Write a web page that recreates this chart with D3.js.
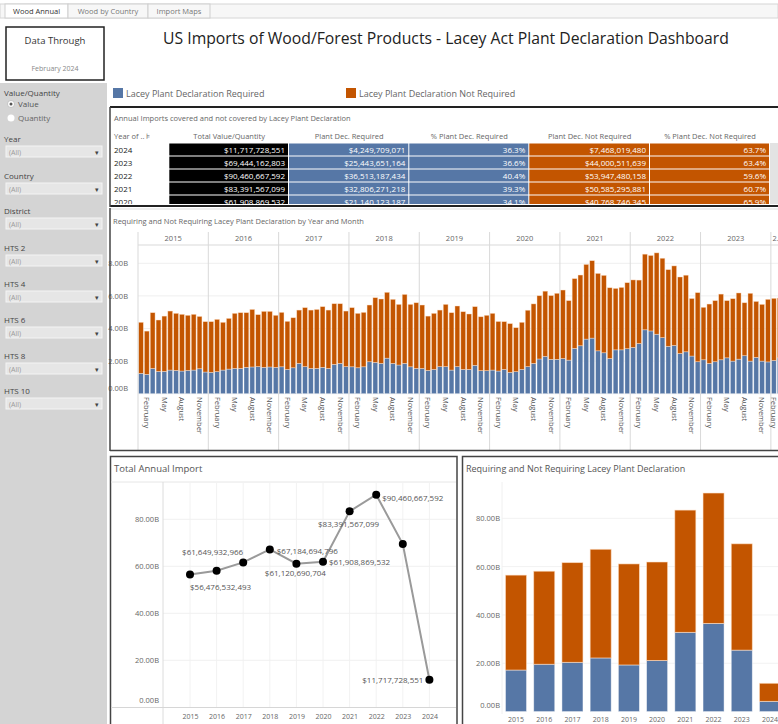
<!DOCTYPE html>
<html>
<head>
<meta charset="utf-8">
<script src="https://cdn.jsdelivr.net/npm/d3@7"></script>
<style>
  body { margin: 0; background: #fff; }
  svg text { font-family: "Open Sans", sans-serif; }
</style>
</head>
<body>
<script>
// ---- data ----
const years = [2015, 2016, 2017, 2018, 2019, 2020, 2021, 2022, 2023, 2024];
const annualTotal = [56.48, 58.10, 61.65, 67.18, 61.12, 61.91, 83.39, 90.46, 69.44, 11.72];   // billions
const annualRequired = [17.2, 19.6, 20.4, 22.2, 19.3, 21.14, 32.81, 36.51, 25.44, 4.25];
const lineLabels = ["$56,476,532,493", null, "$61,649,932,966", "$67,184,694,796", "$61,120,690,704",
                    "$61,908,869,532", "$83,391,567,099", "$90,460,667,592", null, "$11,717,728,551"];

const tableYears = ["2024", "2023", "2022", "2021", "2020"];
const tableTotal = ["$11,717,728,551", "$69,444,162,803", "$90,460,667,592", "$83,391,567,099", "$61,908,869,532"];
const tableRequired = ["$4,249,709,071", "$25,443,651,164", "$36,513,187,434", "$32,806,271,218", "$21,140,123,187"];
const tableRequiredPct = ["36.3%", "36.6%", "40.4%", "39.3%", "34.1%"];
const tableNotRequired = ["$7,468,019,480", "$44,000,511,639", "$53,947,480,158", "$50,585,295,881", "$40,768,746,345"];
const tableNotRequiredPct = ["63.7%", "63.4%", "59.6%", "60.7%", "65.9%"];

const monthNames = ["January", "February", "March", "April", "May", "June", "July",
                    "August", "September", "October", "November", "December"];
// monthly totals, Jan 2015 .. Feb 2024 (billions)
const monthlyTotal = [
  4.38, 3.84, 4.97, 4.52, 4.76, 5.07, 4.93, 4.87, 4.81, 4.87, 4.74, 4.42,
  4.42, 4.56, 4.38, 4.62, 4.93, 4.97, 4.97, 5.17, 4.85, 5.05, 5.05, 4.81,
  4.99, 4.44, 4.66, 5.13, 5.28, 5.13, 5.17, 5.34, 5.13, 5.52, 5.52, 5.07,
  5.28, 4.93, 4.99, 5.44, 5.89, 5.81, 6.22, 5.79, 5.48, 6.09, 5.48, 5.58,
  5.44, 4.76, 4.93, 5.13, 5.48, 4.97, 5.38, 5.03, 4.89, 5.34, 4.72, 4.81,
  4.93, 4.43, 4.42, 4.30, 4.05, 4.38, 5.12, 5.51, 6.01, 6.29, 6.02, 6.16,
  6.36, 5.71, 7.06, 7.28, 7.93, 8.16, 7.38, 7.26, 6.50, 6.46, 6.52, 6.81,
  6.98, 6.97, 8.56, 8.48, 8.64, 8.31, 7.61, 7.84, 7.16, 7.27, 5.84, 6.20,
  5.30, 5.50, 5.71, 6.11, 5.71, 5.83, 6.18, 5.58, 6.16, 5.66, 5.48, 5.79,
  5.85, 5.87
];
// monthly amounts requiring a plant declaration
const monthlyRequired = [
  1.25, 1.19, 1.55, 1.37, 1.37, 1.45, 1.43, 1.39, 1.43, 1.45, 1.53, 1.33,
  1.31, 1.35, 1.45, 1.51, 1.55, 1.55, 1.62, 1.64, 1.66, 1.62, 1.64, 1.62,
  1.65, 1.49, 1.59, 1.86, 1.66, 1.55, 1.55, 1.62, 1.55, 1.80, 1.86, 1.66,
  1.65, 1.59, 1.65, 1.96, 1.92, 1.86, 2.18, 1.86, 1.76, 1.86, 1.65, 1.55,
  1.55, 1.43, 1.49, 1.66, 1.66, 1.45, 1.66, 1.49, 1.49, 1.74, 1.41, 1.41,
  1.45, 1.39, 1.49, 1.31, 1.35, 1.49, 1.66, 1.86, 2.13, 2.29, 2.11, 2.11,
  2.16, 2.06, 2.78, 2.94, 3.35, 3.41, 2.63, 2.51, 2.16, 2.69, 2.69, 2.76,
  2.84, 3.08, 3.92, 3.85, 3.65, 3.44, 2.91, 2.96, 2.47, 2.57, 2.31, 1.96,
  2.08, 1.86, 1.96, 2.08, 2.20, 2.00, 2.12, 2.33, 2.00, 2.23, 2.00, 1.95,
  2.04, 2.20
];
const monthlyTicks = [0, 2, 4, 6, 8];
const annualTicks = [0, 20, 40, 60, 80];

// ---- styles ----
const blue = "#5677a6";
const orange = "#c35500";
const gridColor = "#efefef";
const lineGray = "#d9d9d9";
const textGray = "#666";
const panelStroke = "#444";

let svg = d3.select("body").append("svg")
            .attr("width", 778)
            .attr("height", 724);

svg.append("rect").attr("width", "100%").attr("height", "100%").attr("fill", "#fff");

drawTabs();
drawSidebar();
drawHeader();
drawTable();
drawMonthly();
drawLineChart();
drawAnnualBars();

function fmtB(v) { return v.toFixed(2) + "B"; }

function drawTabs() {
    let g = svg.append("g");
    g.append("rect").attr("x", 0).attr("y", 4).attr("width", 778).attr("height", 14)
     .attr("fill", "#f7f7f7").attr("stroke", "#d6d6d6").attr("stroke-width", 1);
    let tabs = [["Wood Annual", 5, 63, true], ["Wood by Country", 68, 80, false], ["Import Maps", 148, 62, false]];
    for (let [label, x, w, active] of tabs) {
        g.append("rect").attr("x", x).attr("y", 4).attr("width", w).attr("height", 14)
         .attr("fill", active ? "#fff" : "#f7f7f7").attr("stroke", "#cfcfcf").attr("stroke-width", 1);
        g.append("text").attr("x", x + w / 2).attr("y", 14).attr("text-anchor", "middle")
         .attr("font-size", "7.5px").attr("fill", active ? "#333" : "#777").text(label);
    }
}

function drawSidebar() {
    let g = svg.append("g");
    g.append("rect").attr("x", 0).attr("y", 83).attr("width", 107).attr("height", 641).attr("fill", "#d4d4d4");

    g.append("rect").attr("x", 6).attr("y", 27).attr("width", 98).attr("height", 53)
     .attr("fill", "#fff").attr("stroke", "#222").attr("stroke-width", 1.5);
    g.append("text").attr("x", 55).attr("y", 44).attr("text-anchor", "middle")
     .attr("font-size", "9.5px").attr("fill", "#333").text("Data Through");
    g.append("text").attr("x", 55).attr("y", 71).attr("text-anchor", "middle")
     .attr("font-size", "7px").attr("fill", "#888").text("February 2024");

    g.append("text").attr("x", 4).attr("y", 96).attr("font-size", "8px").attr("fill", "#444").text("Value/Quantity");
    g.append("circle").attr("cx", 11).attr("cy", 104).attr("r", 3.5).attr("fill", "#fff").attr("stroke", "#aaa").attr("stroke-width", 0.6);
    g.append("circle").attr("cx", 11).attr("cy", 104).attr("r", 1.5).attr("fill", "#555");
    g.append("text").attr("x", 18).attr("y", 107).attr("font-size", "8px").attr("fill", "#555").text("Value");
    g.append("circle").attr("cx", 11).attr("cy", 118).attr("r", 3.5).attr("fill", "#fff");
    g.append("text").attr("x", 18).attr("y", 121).attr("font-size", "8px").attr("fill", "#666").text("Quantity");

    let filters = [["Year", 142], ["Country", 179], ["District", 214], ["HTS 2", 251],
                   ["HTS 4", 287], ["HTS 6", 323], ["HTS 8", 359], ["HTS 10", 394]];
    for (let [label, y] of filters) {
        g.append("text").attr("x", 4).attr("y", y).attr("font-size", "8px").attr("fill", "#444").text(label);
        g.append("rect").attr("x", 6).attr("y", y + 4).attr("width", 96).attr("height", 11)
         .attr("fill", "#e6e6e6").attr("stroke", "#f4f4f4").attr("stroke-width", 1);
        g.append("text").attr("x", 9).attr("y", y + 12.5).attr("font-size", "7px").attr("fill", "#9a9a9a").text("(All)");
        g.append("text").attr("x", 97).attr("y", y + 12.5).attr("text-anchor", "middle")
         .attr("font-size", "7px").attr("fill", "#444").text("▾");
    }
}

function drawHeader() {
    let title = svg.append("text")
                   .attr("x", 446).attr("y", 44).attr("text-anchor", "middle")
                   .attr("font-size", "16px").attr("fill", "#222")
                   .text("US Imports of Wood/Forest Products - Lacey Act Plant Declaration Dashboard");
    let w = title.node().getComputedTextLength();
    title.attr("font-size", (16 * 566 / w) + "px");

    let legend = [["Lacey Plant Declaration Required", blue, 113], ["Lacey Plant Declaration Not Required", orange, 346]];
    for (let [label, color, x] of legend) {
        svg.append("rect").attr("x", x).attr("y", 88).attr("width", 10).attr("height", 10).attr("fill", color);
        svg.append("text").attr("x", x + 13).attr("y", 96.5).attr("font-size", "9px").attr("fill", "#666").text(label);
    }
}

function drawTable() {
    let g = svg.append("g");
    svg.append("clipPath").attr("id", "tableClip")
       .append("rect").attr("x", 110).attr("y", 107).attr("width", 668).attr("height", 97);
    let body = g.append("g").attr("clip-path", "url(#tableClip)");

    g.append("text").attr("x", 114).attr("y", 121).attr("font-size", "7.5px").attr("fill", textGray)
     .text("Annual Imports covered and not covered by Lacey Plant Declaration");

    let cols = [
        { x: 110, w: 59.3, head: "Year of .. \u22A7", values: tableYears, fill: null },
        { x: 169.3, w: 119.7, head: "Total Value/Quantity", values: tableTotal, fill: "#000" },
        { x: 289, w: 120.3, head: "Plant Dec. Required", values: tableRequired, fill: blue },
        { x: 409.3, w: 120, head: "% Plant Dec. Required", values: tableRequiredPct, fill: blue },
        { x: 529.3, w: 120.7, head: "Plant Dec. Not Required", values: tableNotRequired, fill: orange },
        { x: 650, w: 120, head: "% Plant Dec. Not Required", values: tableNotRequiredPct, fill: orange }
    ];
    let rowTop = 143.5, rowH = 13;

    cols.forEach((c, ci) => {
        g.append("text")
         .attr("x", ci === 0 ? 114 : c.x + c.w / 2)
         .attr("y", 139)
         .attr("text-anchor", ci === 0 ? "start" : "middle")
         .attr("font-size", "7.5px").attr("fill", textGray)
         .text(c.head);
        c.values.forEach((v, ri) => {
            let y = rowTop + ri * rowH;
            if (c.fill) {
                body.append("rect").attr("x", c.x).attr("y", y).attr("width", c.w - 1).attr("height", rowH - 1)
                    .attr("fill", c.fill);
            }
            body.append("text")
                .attr("x", ci === 0 ? 114 : c.x + c.w - 4)
                .attr("y", y + 9.5)
                .attr("text-anchor", ci === 0 ? "start" : "end")
                .attr("font-size", "8px")
                .attr("fill", ci === 0 ? "#222" : "#fff")
                .text(v);
        });
    });
    body.append("rect").attr("x", 770).attr("y", 143).attr("width", 8).attr("height", 64).attr("fill", "#e3e3e3");

    g.append("line").attr("x1", 110).attr("x2", 778).attr("y1", 107).attr("y2", 107)
     .attr("stroke", "#222").attr("stroke-width", 2);
    g.append("line").attr("x1", 110).attr("x2", 778).attr("y1", 206).attr("y2", 206)
     .attr("stroke", "#222").attr("stroke-width", 2);
    g.append("line").attr("x1", 110).attr("x2", 110).attr("y1", 107).attr("y2", 207)
     .attr("stroke", panelStroke).attr("stroke-width", 1.5);
}

function drawMonthly() {
    let g = svg.append("g");
    let x0 = 138, monthW = 5.86;
    let x = d3.scaleBand().domain(d3.range(monthlyTotal.length))
              .range([x0, x0 + monthlyTotal.length * monthW]).paddingInner(0.18).paddingOuter(0.09);
    let y = d3.scaleLinear().domain([0, 8]).range([393.7, 263.3]);

    g.append("line").attr("x1", 110).attr("x2", 778).attr("y1", 209).attr("y2", 209).attr("stroke", "#ddd");
    g.append("text").attr("x", 113).attr("y", 224).attr("font-size", "7.5px").attr("fill", textGray)
     .text("Requiring and Not Requiring Lacey Plant Declaration by Year and Month");

    // gridlines
    g.selectAll(".mgrid").data(monthlyTicks).join("line")
     .attr("x1", x0).attr("x2", 778).attr("y1", d => y(d)).attr("y2", d => y(d))
     .attr("stroke", gridColor).attr("stroke-width", 1);

    // y axis labels
    let axis = g.append("g").attr("transform", "translate(128,0)")
                .call(d3.axisLeft(y).tickValues(monthlyTicks).tickFormat(fmtB).tickSize(0).tickPadding(0));
    axis.select(".domain").remove();
    axis.selectAll("text").attr("font-size", "7.5px").attr("fill", textGray)
        .attr("font-family", "'Open Sans', sans-serif")
        .attr("dy", d => d === 0 ? "-0.45em" : "0.32em");

    // bars
    let idx = d3.range(monthlyTotal.length);
    g.selectAll(".mreq").data(idx).join("rect")
     .attr("x", d => x(d)).attr("width", x.bandwidth())
     .attr("y", d => y(monthlyRequired[d])).attr("height", d => y(0) - y(monthlyRequired[d]))
     .attr("fill", blue).attr("stroke", "rgba(255,255,255,0.55)").attr("stroke-width", 0.6);
    g.selectAll(".mnot").data(idx).join("rect")
     .attr("x", d => x(d)).attr("width", x.bandwidth())
     .attr("y", d => y(monthlyTotal[d])).attr("height", d => y(monthlyRequired[d]) - y(monthlyTotal[d]))
     .attr("fill", orange).attr("stroke", "rgba(255,225,200,0.7)").attr("stroke-width", 0.6);

    // year header and separators
    g.append("line").attr("x1", x0).attr("x2", 778).attr("y1", 245).attr("y2", 245).attr("stroke", lineGray);
    years.forEach((yr, i) => {
        let start = i * 12;
        let count = Math.min(12, monthlyTotal.length - start);
        let left = x0 + start * monthW;
        let right = left + count * monthW;
        g.append("line").attr("x1", left).attr("x2", left).attr("y1", 232).attr("y2", 450)
         .attr("stroke", lineGray).attr("stroke-width", 1);
        let full = count === 12;
        g.append("text").attr("x", full ? (left + right) / 2 : left + 1.5).attr("y", 241)
         .attr("text-anchor", full ? "middle" : "start")
         .attr("font-size", "7.5px").attr("fill", textGray)
         .text(full ? yr : String(yr).slice(0, 1) + ".");
    });

    // month labels
    idx.filter(d => d % 3 === 1).forEach(d => {
        let cx = Math.min(x(d) + x.bandwidth() / 2 - 2.6, 771);
        g.append("text").attr("transform", `translate(${cx},397) rotate(90)`)
         .attr("font-size", "7.5px").attr("fill", "#555")
         .text(monthNames[d % 12]);
    });

    g.append("line").attr("x1", 110).attr("x2", 110).attr("y1", 208).attr("y2", 451)
     .attr("stroke", panelStroke).attr("stroke-width", 1.5);
    g.append("line").attr("x1", 110).attr("x2", 778).attr("y1", 450.5).attr("y2", 450.5)
     .attr("stroke", panelStroke).attr("stroke-width", 1.5);
}

function drawLineChart() {
    let g = svg.append("g");
    let x = d3.scalePoint().domain(years).range([190, 429.4]);
    let y = d3.scaleLinear().domain([0, 80]).range([707.3, 519.3]);

    g.append("rect").attr("x", 110.5).attr("y", 456.5).attr("width", 346.5).attr("height", 270)
     .attr("fill", "none").attr("stroke", panelStroke).attr("stroke-width", 1.5);
    g.append("text").attr("x", 114).attr("y", 472).attr("font-size", "9.5px").attr("fill", "#555")
     .text("Total Annual Import");

    g.append("line").attr("x1", 111).attr("x2", 456).attr("y1", 482).attr("y2", 482).attr("stroke", "#e6e6e6");
    g.selectAll(".vgrid").data(years).join("line")
     .attr("x1", d => x(d)).attr("x2", d => x(d)).attr("y1", 482).attr("y2", 707)
     .attr("stroke", "#f2f2f2");
    g.selectAll(".hgrid").data(annualTicks.slice(1)).join("line")
     .attr("x1", 163).attr("x2", 456).attr("y1", d => y(d)).attr("y2", d => y(d))
     .attr("stroke", "#f0f0f0");
    g.append("line").attr("x1", 163).attr("x2", 163).attr("y1", 482).attr("y2", 724).attr("stroke", "#dcdcdc");
    g.append("line").attr("x1", 111).attr("x2", 456).attr("y1", 707.5).attr("y2", 707.5).attr("stroke", "#d6d6d6");

    let axis = g.append("g").attr("transform", "translate(159,0)")
                .call(d3.axisLeft(y).tickValues(annualTicks).tickFormat(fmtB).tickSize(0).tickPadding(0));
    axis.select(".domain").remove();
    axis.selectAll("text").attr("font-size", "7.5px").attr("fill", textGray)
        .attr("font-family", "'Open Sans', sans-serif")
        .attr("dy", d => d === 0 ? "-0.6em" : "0.32em");

    let xa = g.append("g").attr("transform", "translate(0,714)")
              .call(d3.axisBottom(x).tickSize(0).tickPadding(0));
    xa.select(".domain").remove();
    xa.selectAll("text").attr("font-size", "7px").attr("fill", textGray)
      .attr("font-family", "'Open Sans', sans-serif");

    let line = d3.line().x((d, i) => x(years[i])).y(d => y(d));
    g.append("path").datum(annualTotal).attr("d", line)
     .attr("fill", "none").attr("stroke", "#9a9a9a").attr("stroke-width", 2);
    g.selectAll(".pt").data(annualTotal).join("circle")
     .attr("cx", (d, i) => x(years[i])).attr("cy", d => y(d)).attr("r", 4).attr("fill", "#000");

    // label placement: [dx, dy, anchor]
    let placement = [[0, 15, "start"], null, [0, -7, "end"], [7, 5, "start"], [-1, 12.7, "middle"],
                     [6, 3, "start"], [-1, 15.7, "middle"], [6, 6, "start"], null, [-6, 3.5, "end"]];
    annualTotal.forEach((v, i) => {
        if (!lineLabels[i]) return;
        let [dx, dy, anchor] = placement[i];
        g.append("text").attr("x", x(years[i]) + dx).attr("y", y(v) + dy)
         .attr("text-anchor", anchor).attr("font-size", "8px").attr("fill", "#555")
         .text(lineLabels[i]);
    });
}

function drawAnnualBars() {
    let g = svg.append("g");
    let x = d3.scaleBand().domain(years).range([501.9, 784.1]).paddingInner(0.255).paddingOuter(0.1275);
    let y = d3.scaleLinear().domain([0, 80]).range([711.6, 518.3]);

    g.append("rect").attr("x", 462.5).attr("y", 456.5).attr("width", 320).attr("height", 270)
     .attr("fill", "none").attr("stroke", panelStroke).attr("stroke-width", 1.5);
    g.append("text").attr("x", 466).attr("y", 472).attr("font-size", "9px").attr("fill", "#555")
     .text("Requiring and Not Requiring Lacey Plant Declaration");

    g.selectAll(".bgrid").data(annualTicks.slice(1)).join("line")
     .attr("x1", 502).attr("x2", 778).attr("y1", d => y(d)).attr("y2", d => y(d))
     .attr("stroke", "#f2f2f2");
    g.append("line").attr("x1", 502).attr("x2", 502).attr("y1", 482).attr("y2", 714).attr("stroke", "#f0f0f0");

    let axis = g.append("g").attr("transform", "translate(500,0)")
                .call(d3.axisLeft(y).tickValues(annualTicks).tickFormat(fmtB).tickSize(0).tickPadding(0));
    axis.select(".domain").remove();
    axis.selectAll("text").attr("font-size", "7.5px").attr("fill", textGray)
        .attr("font-family", "'Open Sans', sans-serif")
        .attr("dy", d => d === 0 ? "-0.6em" : "0.32em");

    g.selectAll(".areq").data(years).join("rect")
     .attr("x", d => x(d)).attr("width", x.bandwidth())
     .attr("y", (d, i) => y(annualRequired[i])).attr("height", (d, i) => y(0) - y(annualRequired[i]))
     .attr("fill", blue).attr("stroke", "rgba(255,255,255,0.55)").attr("stroke-width", 0.8);
    g.selectAll(".anot").data(years).join("rect")
     .attr("x", d => x(d)).attr("width", x.bandwidth())
     .attr("y", (d, i) => y(annualTotal[i])).attr("height", (d, i) => y(annualRequired[i]) - y(annualTotal[i]))
     .attr("fill", orange).attr("stroke", "rgba(255,225,200,0.7)").attr("stroke-width", 0.8);

    let xa = g.append("g").attr("transform", "translate(0,717)")
              .call(d3.axisBottom(x).tickSize(0).tickPadding(0));
    xa.select(".domain").remove();
    xa.selectAll("text").attr("font-size", "7px").attr("fill", textGray)
      .attr("font-family", "'Open Sans', sans-serif");
}
</script>
</body>
</html>
